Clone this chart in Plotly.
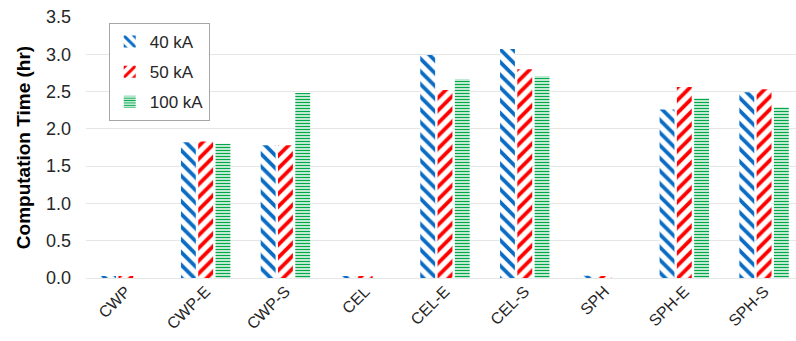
import plotly.graph_objects as go

categories = ["CWP", "CWP-E", "CWP-S", "CEL", "CEL-E", "CEL-S", "SPH", "SPH-E", "SPH-S"]
time_40ka = [0.02, 1.82, 1.78, 0.02, 2.99, 3.07, 0.03, 2.26, 2.49]
time_50ka = [0.02, 1.83, 1.78, 0.02, 2.52, 2.80, 0.02, 2.56, 2.53]
time_100ka = [0.0, 1.80, 2.48, 0.0, 2.67, 2.71, 0.0, 2.41, 2.29]
y_ticks = [0.0, 0.5, 1.0, 1.5, 2.0, 2.5, 3.0, 3.5]

series = [
    ("40 kA", time_40ka, "#0B6CC4", "\\", 9, 0.42),
    ("50 kA", time_50ka, "#FF0000", "/", 9, 0.42),
    ("100 kA", time_100ka, "#00A84A", "-", 3, 0.5),
]

fig = go.Figure()
for name, vals, color, shape, size, solid in series:
    fig.add_trace(go.Bar(
        name=name,
        legendgroup=name,
        x=categories,
        y=vals,
        marker=dict(
            color="white",
            line=dict(width=0),
            pattern=dict(shape=shape, fgcolor=color, bgcolor="white",
                         size=size, solidity=solid, fillmode="replace",
                         fgopacity=1),
        ),
    ))

fig.update_layout(
    width=796,
    height=341,
    margin=dict(l=86, r=0, t=17, b=63),
    paper_bgcolor="white",
    plot_bgcolor="white",
    barmode="group",
    bargap=0.35,
    bargroupgap=0.14,
    font=dict(family="Liberation Sans, Arial, sans-serif", color="#262626"),
    legend=dict(
        x=0.032, y=0.977, xanchor="left", yanchor="top",
        bgcolor="white", bordercolor="#A6A6A6", borderwidth=1,
        font=dict(size=17, color="#262626"),
        itemwidth=30,
        tracegroupgap=5,
        traceorder="grouped",
    ),
    xaxis=dict(
        range=[-0.5, 8.4],
        tickangle=-45,
        tickfont=dict(size=16, color="#262626"),
        showgrid=False,
        showline=False,
        ticks="",
    ),
    yaxis=dict(
        range=[0, 3.5],
        tickvals=y_ticks,
        tickformat=".1f",
        tickfont=dict(size=18, color="#262626"),
        showgrid=True,
        gridcolor="#E6E6E6",
        gridwidth=1,
        zeroline=True,
        zerolinecolor="#E6E6E6",
        zerolinewidth=1,
        ticklabelstandoff=14,
        title=dict(text="<b>Computation Time (hr)</b>",
                   font=dict(size=19, color="#000000"), standoff=10),
    ),
)

fig.write_html("out.html")
